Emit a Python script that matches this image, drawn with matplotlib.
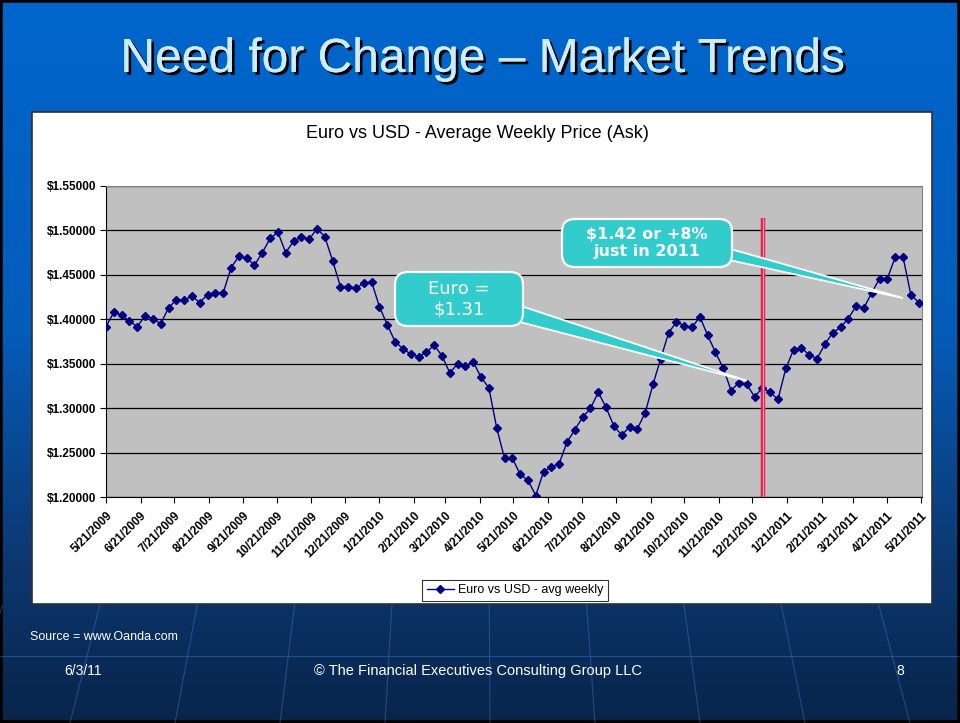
import numpy as np
import pandas as pd
import matplotlib
matplotlib.use("Agg")
import matplotlib.pyplot as plt
import matplotlib.dates as mdates
import matplotlib.patheffects as pe
from matplotlib.patches import FancyBboxPatch, Polygon, Rectangle
from matplotlib.transforms import IdentityTransform
from matplotlib.ticker import FuncFormatter

# Euro vs USD, average weekly ask price (one point per week from 5/21/2009)
start_date = "2009-05-21"
euro_usd = [
    1.392, 1.408, 1.405, 1.398, 1.392, 1.404, 1.401, 1.395, 1.413, 1.422,
    1.422, 1.426, 1.419, 1.428, 1.430, 1.430, 1.458, 1.471, 1.469, 1.461,
    1.475, 1.491, 1.498, 1.475, 1.488, 1.493, 1.490, 1.502, 1.493, 1.466,
    1.437, 1.437, 1.435, 1.441, 1.442, 1.414, 1.394, 1.375, 1.367, 1.361,
    1.358, 1.363, 1.371, 1.359, 1.340, 1.350, 1.348, 1.352, 1.335, 1.323,
    1.278, 1.244, 1.244, 1.226, 1.219, 1.202, 1.229, 1.234, 1.238, 1.262,
    1.276, 1.290, 1.300, 1.318, 1.301, 1.280, 1.270, 1.279, 1.277, 1.295,
    1.327, 1.356, 1.385, 1.397, 1.393, 1.391, 1.403, 1.382, 1.363, 1.345,
    1.320, 1.329, 1.327, 1.313, 1.323, 1.318, 1.310, 1.345, 1.366, 1.368,
    1.360, 1.356, 1.372, 1.385, 1.391, 1.401, 1.415, 1.413, 1.430, 1.446,
    1.446, 1.470, 1.470, 1.428, 1.419,
]
tick_labels = [
    "5/21/2009", "6/21/2009", "7/21/2009", "8/21/2009", "9/21/2009",
    "10/21/2009", "11/21/2009", "12/21/2009", "1/21/2010", "2/21/2010",
    "3/21/2010", "4/21/2010", "5/21/2010", "6/21/2010", "7/21/2010",
    "8/21/2010", "9/21/2010", "10/21/2010", "11/21/2010", "12/21/2010",
    "1/21/2011", "2/21/2011", "3/21/2011", "4/21/2011", "5/21/2011",
]
year_marker = "2010-12-31"          # red line: start of 2011
euro_callout = ("Euro =\n$1.31", 82, 1.331)          # text, point index, price at tip
gain_callout = ("$1.42 or +8%\njust in 2011", 102, 1.424)

W, H = 960, 723
TEAL = "#33CCCC"

plt.rcParams["font.family"] = ["Liberation Sans", "DejaVu Sans"]

dates = pd.date_range(start_date, periods=len(euro_usd), freq="7D")
tick_dates = pd.to_datetime(tick_labels, format="%m/%d/%Y")

fig = plt.figure(figsize=(W / 100, H / 100), dpi=100)


def px(x, y):
    # slide pixel (top-left origin) -> display coords
    return x, H - y


# ---- slide background ----
bg = fig.add_axes([0, 0, 1, 1], zorder=-5)
rows = np.arange(H)
stops_y = [0, 330, 560, H]
stops_c = np.array([[0, 102, 204], [4, 92, 186], [12, 56, 112], [8, 36, 74]]) / 255
grad = np.stack([np.interp(rows, stops_y, stops_c[:, i]) for i in range(3)], axis=-1)
bg.imshow(grad[:, None, :], extent=[0, W, H, 0], aspect="auto")
# faint perspective lines at the bottom of the slide
for xb in np.arange(-350, 1350, 105):
    xs = np.array([480 + (xb - 480) * (605 + 900) / (H + 900), xb])
    bg.plot(xs, [605, H], color="#3c78c8", lw=0.8, alpha=0.45)
bg.plot([0, W], [656, 656], color="#3c78c8", lw=0.8, alpha=0.45)
bg.add_patch(Rectangle((0, 0), W, H, fill=False, ec="black", lw=4))
bg.set_xlim(0, W)
bg.set_ylim(H, 0)
bg.axis("off")

# white chart panel
bg.add_patch(Rectangle((32, 112), 900, 492, fc="white", ec="#303030", lw=1.2))

fig.text(482.5 / W, 1 - 72 / H, "Need for Change \u2013 Market Trends",
         ha="center", va="baseline", fontsize=34.5, color="#CCECFF",
         path_effects=[pe.withSimplePatchShadow(offset=(2, -2), shadow_rgbFace="black", alpha=1.0),
                       pe.Normal()])

# ---- chart ----
ax = fig.add_axes([106 / W, 1 - 497.3 / H, 816 / W, 311.3 / H])
ax.set_facecolor("#C0C0C0")
ax.plot(dates, euro_usd, color="#000080", lw=1.0, marker="D", ms=4.4,
        label="Euro vs USD - avg weekly", zorder=3)
ax.vlines(pd.Timestamp(year_marker), 1.20, 1.514, color="#EE1850", lw=3.2, zorder=4)
ax.vlines(pd.Timestamp(year_marker), 1.20, 1.514, color="#FF9AB2", lw=0.9, zorder=4)

ax.set_ylim(1.20, 1.55)
ax.set_xlim(tick_dates[0], tick_dates[-1] + pd.Timedelta(days=1))
ax.set_yticks(np.arange(1.20, 1.5501, 0.05))
ax.yaxis.set_major_formatter(FuncFormatter(lambda v, p: f"${v:.5f}"))
ax.set_xticks(tick_dates)
ax.set_xticklabels(tick_labels, rotation=45, ha="right", va="top", rotation_mode="anchor")
ax.tick_params(axis="both", direction="out", length=4, width=0.8, colors="black")
ax.tick_params(axis="y", labelsize=8.5, pad=3)
ax.tick_params(axis="x", labelsize=8.5, pad=5)
for lab in ax.get_xticklabels() + ax.get_yticklabels():
    lab.set_fontweight("bold")
ax.yaxis.grid(True, color="black", lw=0.9)
ax.set_axisbelow(True)
for side in ["top", "right"]:
    ax.spines[side].set_color("#808080")
for side in ["left", "bottom"]:
    ax.spines[side].set_color("black")

fig.text(477.5 / W, 1 - 133 / H, "Euro vs USD - Average Weekly Price (Ask)",
         ha="center", va="center", fontsize=13)

leg = ax.legend(loc="center", bbox_to_anchor=(515 / W, 1 - 590.5 / H),
                bbox_transform=fig.transFigure, fontsize=9, frameon=True,
                fancybox=False, handlelength=2.2, numpoints=1, borderpad=0.35,
                handletextpad=0.3, borderaxespad=0)
leg.get_frame().set_edgecolor("black")
leg.get_frame().set_linewidth(0.8)


# ---- callouts ----
def callout(text, idx, price, box, base, size, weight):
    x0, y0, x1, y1 = box
    tip = ax.transData.transform((mdates.date2num(dates[idx]), price))
    wedge = Polygon([px(base[0], base[1]), px(base[0], base[2]), tip], closed=True,
                    fc=TEAL, ec="white", lw=1.3, transform=IdentityTransform(), zorder=5)
    fig.add_artist(wedge)
    patch = FancyBboxPatch(px(x0, y1), x1 - x0, y1 - y0,
                           boxstyle="round,pad=0,rounding_size=13",
                           fc=TEAL, ec="white", lw=1.6,
                           transform=IdentityTransform(), zorder=6)
    fig.add_artist(patch)
    cx, cy = px((x0 + x1) / 2, (y0 + y1) / 2)
    fig.text(cx, cy, text, transform=IdentityTransform(), ha="center", va="center",
             color="white", fontsize=size, fontweight=weight, family="DejaVu Sans",
             linespacing=1.15, zorder=7)


callout(euro_callout[0], euro_callout[1], euro_callout[2],
        (395, 272, 523, 326), (512, 303, 320), 13, "normal")
callout(gain_callout[0], gain_callout[1], gain_callout[2],
        (562, 219, 732, 267), (720, 246, 258), 11.5, "bold")

# ---- footer ----
fig.text(30 / W, 1 - 637 / H, "Source = www.Oanda.com", ha="left", va="center",
         fontsize=9, color="white")
fig.text(83 / W, 1 - 671 / H, "6/3/11", ha="center", va="center", fontsize=10, color="white")
fig.text(477.5 / W, 1 - 671 / H, "\u00a9 The Financial Executives Consulting Group LLC",
         ha="center", va="center", fontsize=10.5, color="white")
fig.text(900 / W, 1 - 671 / H, "8", ha="center", va="center", fontsize=10, color="white")

fig.savefig("out.png", dpi=100)
